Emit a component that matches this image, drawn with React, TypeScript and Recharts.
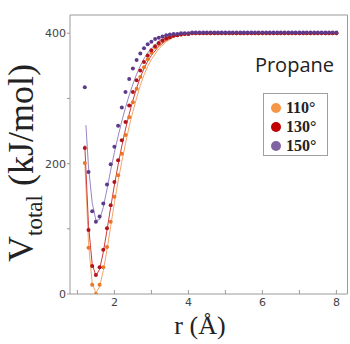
import React from 'react';
import { ComposedChart, Line, Scatter, XAxis, YAxis, Legend } from 'recharts';

// r grid of the computed points (Å)
const R = [
  1.2, 1.3, 1.4, 1.5, 1.6, 1.7, 1.8, 1.9, 2.0, 2.1, 2.2, 2.3, 2.4, 2.5, 2.6, 2.7, 2.8, 2.9, 3.0,
  3.1, 3.2, 3.3, 3.4, 3.5, 3.6, 3.7, 3.8, 3.9, 4.0,
  4.1, 4.2, 4.3, 4.4, 4.5, 4.6, 4.7, 4.8, 4.9, 5.0, 5.1, 5.2, 5.3, 5.4, 5.5, 5.6, 5.7, 5.8, 5.9, 6.0,
  6.1, 6.2, 6.3, 6.4, 6.5, 6.6, 6.7, 6.8, 6.9, 7.0, 7.1, 7.2, 7.3, 7.4, 7.5, 7.6, 7.7, 7.8, 7.9, 8.0,
];

const orangeDots = [
  201, 71, 14, 0, 14, 41, 72, 111, 149, 182, 215, 244, 271, 294, 315, 333, 348, 360, 370,
  378, 383, 388, 391, 394, 396, 397, 398, 399, 399,
  400, 400, 400, 400, 400, 400, 400, 400, 400, 400, 400, 400, 400, 400, 400, 400, 400, 400, 400, 400,
  400, 400, 400, 400, 400, 400, 400, 400, 400, 400, 400, 400, 400, 400, 400, 400, 400, 400, 400, 400,
];

const redDots = [
  224, 98, 43, 29, 41, 68, 101, 136, 172, 205, 236, 264, 289, 310, 328, 343, 356, 366, 374,
  380, 385, 389, 392, 394, 396, 397, 398, 399, 399,
  400, 400, 400, 400, 400, 400, 400, 400, 400, 400, 400, 400, 400, 400, 400, 400, 400, 400, 400, 400,
  400, 400, 400, 400, 400, 400, 400, 400, 400, 400, 400, 400, 400, 400, 400, 400, 400, 400, 400, 400,
];

const purpleDots = [
  317, 187, 127, 111, 119, 139, 168, 199, 226, 258, 286, 310, 330, 346, 359, 369, 377, 383, 387,
  391, 393, 395, 397, 398, 399, 399, 400, 400, 400,
  401, 401, 401, 401, 401, 401, 401, 401, 401, 401, 401, 401, 401, 401, 401, 401, 401, 401, 401, 401,
  401, 401, 401, 401, 401, 401, 401, 401, 401, 401, 401, 401, 401, 401, 401, 401, 401, 401, 401, 401,
];

// fitted curves
const fitR = [
  1.2, 1.3, 1.4, 1.5, 1.6, 1.7, 1.8, 1.9, 2.0, 2.1, 2.2, 2.3, 2.4, 2.5, 2.6, 2.7, 2.8, 2.9, 3.0,
  3.2, 3.4, 3.6, 3.8, 4.0, 5.0, 6.0, 7.0, 8.0,
];
const purpleFitR = [
  1.23, 1.3, 1.4, 1.5, 1.6, 1.7, 1.8, 1.9, 2.0, 2.1, 2.2, 2.3, 2.4, 2.5, 2.6, 2.7, 2.8, 2.9, 3.0,
  3.2, 3.4, 3.6, 3.8, 4.0, 5.0, 6.0, 7.0, 8.0,
];
const orangeFit = [
  203, 78, 16, 2, 11, 36, 68, 104, 140, 173, 203, 231, 257, 280, 301, 320, 336, 349, 360,
  376, 387, 394, 398, 400, 400, 400, 400, 400,
];
const redFit = [
  228, 105, 46, 28, 38, 64, 98, 133, 167, 198, 227, 253, 276, 297, 316, 332, 346, 357, 366,
  380, 389, 395, 398, 400, 400, 400, 400, 400,
];
const purpleFit = [
  259, 195, 140, 113, 114, 133, 161, 190, 217, 242, 265, 286, 305, 322, 337, 350, 361, 370, 377,
  388, 394, 397, 399, 400, 401, 401, 401, 401,
];

const legendNames = ['110°', '130°', '150°'];
const legendColors = ['#f79646', '#c00000', '#8064a2'];

const xTicks = [1, 2, 3, 4, 5, 6, 7, 8];
const yTicks = [0, 100, 200, 300, 400];

const toPts = (xs: number[], ys: number[]) => xs.map((r, i) => ({ r, v: ys[i] }));

const series = [
  { name: legendNames[0], dots: toPts(R, orangeDots), fit: toPts(fitR, orangeFit), dotColor: '#e8772a', lineColor: '#f3a467' },
  { name: legendNames[1], dots: toPts(R, redDots), fit: toPts(fitR, redFit), dotColor: '#b3141b', lineColor: '#cf3a3a' },
  { name: legendNames[2], dots: toPts(R, purpleDots), fit: toPts(purpleFitR, purpleFit), dotColor: '#5c3b8c', lineColor: '#9a86c2' },
];

const tickStyle = { fontSize: 11, fill: '#444', fontFamily: 'DejaVu Sans' };
const axisColor = '#9a9a9a';

const LegendBox = () => (
  <div
    style={{
      border: '1px solid #a0a0a0',
      width: 65,
      height: 63,
      boxSizing: 'border-box',
      paddingTop: 4,
      background: '#fff',
    }}
  >
    {legendNames.map((n, i) => (
      <div key={n} style={{ display: 'flex', alignItems: 'center', height: 19 }}>
        <span
          style={{
            display: 'inline-block',
            width: 10,
            height: 10,
            borderRadius: 5,
            background: legendColors[i],
            marginLeft: 7,
            marginRight: 5,
          }}
        />
        <span style={{ fontFamily: 'Liberation Serif', fontWeight: 'bold', fontSize: 16, color: '#222', lineHeight: '19px' }}>{n}</span>
      </div>
    ))}
  </div>
);

export default function App() {
  return (
    <div style={{ position: 'absolute', left: 0, top: 0, width: 350, height: 344, background: '#fff' }}>
      <ComposedChart width={350} height={344} margin={{ top: 13, right: 0.5, bottom: 20, left: 30 }}>
        <XAxis
          xAxisId="b"
          dataKey="r"
          type="number"
          domain={[0.8, 8.3]}
          ticks={xTicks}
          tickFormatter={(v: number) => (v % 2 === 0 ? String(v) : '')}
          height={30}
          tickSize={-4}
          tickMargin={8}
          stroke={axisColor}
          tick={tickStyle}
          allowDataOverflow
        />
        <XAxis
          xAxisId="t"
          orientation="top"
          type="number"
          domain={[0.8, 8.3]}
          ticks={xTicks}
          height={2}
          tickSize={-4}
          tick={false}
          stroke={axisColor}
          allowDataOverflow
        />
        <YAxis
          yAxisId="l"
          type="number"
          domain={[0, 428]}
          ticks={yTicks}
          tickFormatter={(v: number) => (v % 200 === 0 ? String(v) : '')}
          width={40}
          tickSize={3}
          tickMargin={1}
          stroke={axisColor}
          tick={tickStyle}
          allowDataOverflow
        />
        <YAxis
          yAxisId="r"
          orientation="right"
          type="number"
          domain={[0, 428]}
          ticks={yTicks}
          width={2}
          tickSize={-4}
          tick={false}
          stroke={axisColor}
          allowDataOverflow
        />
        {series.map((s) => (
          <Line
            key={'fit' + s.name}
            xAxisId="b"
            yAxisId="l"
            data={s.fit}
            dataKey="v"
            type="linear"
            stroke={s.lineColor}
            strokeWidth={1}
            dot={false}
            activeDot={false}
            isAnimationActive={false}
            legendType="none"
          />
        ))}
        {series.map((s) => (
          <Scatter
            key={'dots' + s.name}
            name={s.name}
            xAxisId="b"
            yAxisId="l"
            data={s.dots}
            dataKey="v"
            fill={s.dotColor}
            isAnimationActive={false}
            shape={(p: any) => <circle cx={p.cx} cy={p.cy} r={2} fill={s.dotColor} />}
          />
        ))}
        <Legend
          layout="vertical"
          align="center"
          verticalAlign="middle"
          wrapperStyle={{ left: 263, top: 93, width: 65, height: 63 }}
          content={() => <LegendBox />}
        />
      </ComposedChart>
      <div
        style={{
          position: 'absolute',
          right: 16,
          top: 53,
          fontFamily: 'Open Sans',
          fontSize: 20,
          color: '#222',
          lineHeight: '24px',
        }}
      >
        Propane
      </div>
      <div
        style={{
          position: 'absolute',
          left: 150,
          width: 100,
          top: 311,
          textAlign: 'center',
          fontFamily: 'Liberation Serif',
          fontSize: 26,
          color: '#222',
          lineHeight: '30px',
        }}
      >
        r (Å)
      </div>
      <div
        style={{
          position: 'absolute',
          left: 28,
          top: 163,
          width: 0,
          height: 0,
        }}
      >
        <div
          style={{
            position: 'absolute',
            left: 0,
            top: 0,
            transform: 'translate(-50%, -50%) rotate(-90deg)',
            whiteSpace: 'nowrap',
            fontFamily: 'Liberation Serif',
            fontSize: 36,
            color: '#222',
            lineHeight: '40px',
          }}
        >
          V<sub style={{ fontSize: 23, verticalAlign: '-0.35em' }}>total</sub> (kJ/mol)
        </div>
      </div>
    </div>
  );
}
